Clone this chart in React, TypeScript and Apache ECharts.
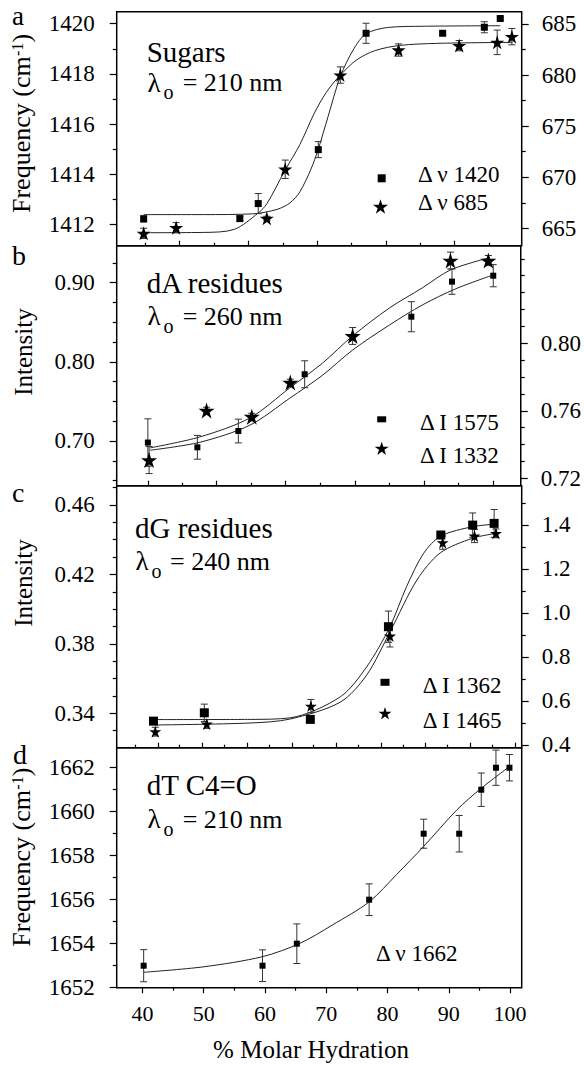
import React, { useEffect, useRef } from "react";
import * as echarts from "echarts";

const SERIF = "Liberation Serif, serif";
const INK = "#000";
const STAR_D =
  "M0,-10L2.245,-3.09L9.511,-3.09L3.633,1.18L5.878,8.09L0,3.82L-5.878,8.09L-3.633,1.18L-9.511,-3.09L-2.245,-3.09Z";

// shared x scale: % molar hydration
const X_RANGE = [35.8, 101.9];
const dXMajor = [40, 50, 60, 70, 80, 90, 100];
const dXMinor = [45, 55, 65, 75, 85, 95];
// unlabeled tick marks of the upper panels (positions on the hydration scale)
const aXMajor = [46.04, 57.3, 68.46, 79.72, 90.93];
const aXMinor = [40.44, 51.7, 62.91, 74.06, 85.32, 96.57];
const bXMajor = [40.88, 52.14, 63.45, 74.76, 86.13, 97.44];
const bXMinor = [46.53, 57.85, 69.11, 80.42, 91.73];
const cXMajor = [42.51, 49.79, 57.04, 64.38, 71.61, 78.95, 86.24, 93.47, 100.82];
const cXMinor = [38.81, 46.04, 53.38, 60.68, 67.91, 75.25, 82.49, 89.83, 97.11];

// ---- panel a: Sugars ----
const aLeftRange = [1411.15, 1420.48];
const aLeftMajor = [1412, 1414, 1416, 1418, 1420];
const aLeftMinor = [1413, 1415, 1417, 1419];
const aRightRange = [663.3, 686.2];
const aRightMajor = [665, 670, 675, 680, 685];
const aRightMinor = [667.5, 672.5, 677.5, 682.5];
// [hydration, value, error]
const aSquares = [
  [40.2, 1412.22, 0.12], [55.9, 1412.23, 0.1], [58.9, 1412.83, 0.4], [68.7, 1414.98, 0.32],
  [76.5, 1419.62, 0.4], [89.0, 1419.62, 0.06], [95.8, 1419.86, 0.22], [98.4, 1420.21, 0.06],
];
const aStars = [
  [40.2, 664.51, 0.5], [45.5, 665.06, 0.5], [60.3, 665.98, 0.2], [63.3, 670.78, 0.9],
  [72.3, 680.0, 0.8], [81.8, 682.45, 0.6], [91.7, 682.88, 0.5], [97.9, 683.2, 1.2], [100.3, 683.76, 0.8],
];
const aSquareFit = [
  [40.2, 1412.39], [50, 1412.39], [58, 1412.42], [62, 1412.6], [64.1, 1412.86], [65.7, 1413.3],
  [67.5, 1414.2], [68.7, 1415.0], [70.3, 1416.3], [72.3, 1417.9], [74.5, 1419.0], [76.5, 1419.6],
  [80, 1419.85], [86, 1419.9], [98.4, 1419.92],
];
const aStarFit = [
  [40.2, 664.57], [50, 664.6], [55, 664.9], [58.9, 666.5], [60.3, 667.4], [63.3, 670.7],
  [65.7, 673.2], [68, 676.2], [70, 678.3], [72.3, 680.0], [75, 681.5], [78, 682.4], [82, 682.9],
  [88, 683.1], [100.4, 683.2],
];

// ---- panel b: dA residues ----
const bLeftRange = [0.6435, 0.9467];
const bLeftMajor = [0.7, 0.8, 0.9];
const bLeftMinor = [0.65, 0.675, 0.725, 0.75, 0.775, 0.825, 0.85, 0.875, 0.925];
const bRightRange = [0.7156, 0.8578];
const bRightMajor = [0.72, 0.76, 0.8];
const bRightMinor = [0.73, 0.74, 0.75, 0.77, 0.78, 0.79, 0.81, 0.82, 0.83, 0.84, 0.85];
const bSquares = [
  [40.9, 0.698, 0.03], [49.0, 0.692, 0.015], [55.7, 0.7126, 0.015], [66.55, 0.7843, 0.017],
  [84.0, 0.857, 0.019], [90.65, 0.9013, 0.016], [97.4, 0.9088, 0.014],
];
const bStars = [
  [41.1, 0.7308, 0.008], [50.5, 0.7601, 0.002], [57.9, 0.7565, 0.002], [64.2, 0.7767, 0.002],
  [74.4, 0.8043, 0.005], [90.4, 0.849, 0.005], [96.6, 0.849, 0.003],
];
const bSquareFit = [
  [41.25, 0.6883], [49.41, 0.6984], [57.57, 0.7199], [64.1, 0.754], [69.49, 0.7832],
  [74.38, 0.8148], [80.42, 0.8465], [85.8, 0.8718], [91.19, 0.892], [97.4, 0.9098],
];
const bStarFit = [
  [41.25, 0.738], [49.41, 0.7445], [57.57, 0.7557], [64.1, 0.7735], [69.49, 0.7883],
  [74.38, 0.8043], [80.42, 0.8209], [85.8, 0.8328], [90.38, 0.8434], [96.58, 0.8505],
];

// ---- panel c: dG residues ----
const cLeftRange = [0.3202, 0.4711];
const cLeftMajor = [0.34, 0.38, 0.42, 0.46];
const cLeftMinor = [0.33, 0.35, 0.36, 0.37, 0.39, 0.4, 0.41, 0.43, 0.44, 0.45, 0.47];
const cRightRange = [0.3877, 1.5786];
const cRightMajor = [0.4, 0.6, 0.8, 1.0, 1.2, 1.4];
const cRightMinor = [0.5, 0.7, 0.9, 1.1, 1.3, 1.5];
const cSquares = [
  [41.8, 0.3355, 0.001], [50.1, 0.3403, 0.005], [67.4, 0.3365, 0.001], [80.15, 0.3899, 0.009],
  [88.7, 0.4427, 0.002], [93.9, 0.4484, 0.007], [97.4, 0.4494, 0.008],
];
const cStars = [
  [42.1, 0.4605, 0.02], [50.5, 0.4955, 0.02], [67.5, 0.577, 0.03], [80.4, 0.8955, 0.05],
  [89.0, 1.3196, 0.03], [94.2, 1.35, 0.03], [97.7, 1.362, 0.02],
];
const cSquareFit = [
  [41.8, 0.3364], [57.6, 0.3365], [64.1, 0.3374], [72.3, 0.3495], [76.6, 0.3668], [80.4, 0.3899],
  [83.1, 0.4129], [85.9, 0.4322], [88.7, 0.4421], [93.9, 0.4475], [97.4, 0.4489],
];
const cStarFit = [
  [42.1, 0.491], [57.6, 0.5], [64.1, 0.518], [72.3, 0.595], [76.6, 0.718], [80.4, 0.914],
  [84.8, 1.15], [88.6, 1.273], [93.9, 1.34], [97.8, 1.362],
];

// ---- panel d: dT C4=O ----
const dLeftRange = [1652, 1662.91];
const dLeftMajor = [1652, 1654, 1656, 1658, 1660, 1662];
const dLeftMinor = [1653, 1655, 1657, 1659, 1661];
const dSquares = [
  [40.2, 1653, 0.73], [59.6, 1653, 0.72], [65.2, 1654, 0.9], [77.0, 1656, 0.72], [85.9, 1659, 0.66],
  [91.7, 1659, 0.83], [95.3, 1661, 0.76], [97.7, 1662, 0.8], [99.9, 1662, 0.6],
];
const dSquareFit = [
  [40.16, 1652.7], [50, 1652.95], [59.58, 1653.41], [65.73, 1654.02], [71, 1654.85], [77.0, 1655.9],
  [81.5, 1657.15], [85.86, 1658.41], [91.31, 1660.08], [95.27, 1661.06], [99.89, 1662.05],
];

type Side = { range: number[]; major: number[]; minor: number[]; digits: number };
type Panel = {
  top: number;
  height: number;
  xMajor: number[];
  xMinor: number[];
  xInside: boolean;
  xLabels: boolean;
  left: Side;
  right?: Side;
  squares: number[][];
  squareSize: number | number[];
  squareFit: number[][];
  stars?: number[][];
  starSize?: number;
  starFit?: number[][];
};

const panels: Panel[] = [
  {
    top: 11.7, height: 234, xMajor: aXMajor, xMinor: aXMinor, xInside: true, xLabels: false,
    left: { range: aLeftRange, major: aLeftMajor, minor: aLeftMinor, digits: 0 },
    right: { range: aRightRange, major: aRightMajor, minor: aRightMinor, digits: 0 },
    squares: aSquares, squareSize: 7, squareFit: aSquareFit, stars: aStars, starSize: 14, starFit: aStarFit,
  },
  {
    top: 245.7, height: 240, xMajor: bXMajor, xMinor: bXMinor, xInside: true, xLabels: false,
    left: { range: bLeftRange, major: bLeftMajor, minor: bLeftMinor, digits: 2 },
    right: { range: bRightRange, major: bRightMajor, minor: bRightMinor, digits: 2 },
    squares: bSquares, squareSize: [6, 6], squareFit: bSquareFit, stars: bStars, starSize: 16, starFit: bStarFit,
  },
  {
    top: 485.7, height: 262, xMajor: cXMajor, xMinor: cXMinor, xInside: true, xLabels: false,
    left: { range: cLeftRange, major: cLeftMajor, minor: cLeftMinor, digits: 2 },
    right: { range: cRightRange, major: cRightMajor, minor: cRightMinor, digits: 1 },
    squares: cSquares, squareSize: 9, squareFit: cSquareFit, stars: cStars, starSize: 12, starFit: cStarFit,
  },
  {
    top: 747.7, height: 240, xMajor: dXMajor, xMinor: dXMinor, xInside: false, xLabels: true,
    left: { range: dLeftRange, major: dLeftMajor, minor: dLeftMinor, digits: 0 },
    squares: dSquares, squareSize: 6, squareFit: dSquareFit,
  },
];

const tickLine = { color: INK, width: 1.2 };

function xAxisCfg(gi: number, values: number[], len: number, inside: boolean, labels: boolean) {
  return {
    type: "value", gridIndex: gi, position: "bottom", min: X_RANGE[0], max: X_RANGE[1],
    axisLine: { show: false, onZero: false }, splitLine: { show: false },
    axisTick: { show: true, inside, length: len, customValues: values, lineStyle: tickLine },
    axisLabel: labels
      ? {
          show: true, customValues: values, margin: 15, fontFamily: SERIF, fontSize: 22, color: INK,
          formatter: (v: number) => String(Math.round(v)),
        }
      : { show: false },
  };
}

function yAxisCfg(gi: number, pos: string, side: Side, values: number[], len: number, labels: boolean) {
  return {
    type: "value", gridIndex: gi, position: pos, min: side.range[0], max: side.range[1],
    axisLine: { show: false, onZero: false }, splitLine: { show: false },
    axisTick: { show: true, length: len, customValues: values, lineStyle: tickLine },
    axisLabel: labels
      ? {
          show: true, customValues: values, margin: pos === "left" ? 22 : 20,
          fontFamily: SERIF, fontSize: 23, color: INK,
          formatter: (v: number) => Number(v).toFixed(side.digits),
        }
      : { show: false },
  };
}

function errSeries(pts: number[][], xi: number, yi: number) {
  return {
    type: "custom", xAxisIndex: xi, yAxisIndex: yi, silent: true, clip: false, z: 3,
    data: pts.map((p) => [p[0], p[1] - p[2], p[1] + p[2]]),
    encode: { x: 0, y: [1, 2] },
    renderItem: (_params: any, api: any) => {
      const x = api.value(0);
      const lo = api.coord([x, api.value(1)]);
      const hi = api.coord([x, api.value(2)]);
      const w = 3.5;
      const st = { stroke: "#333", lineWidth: 1 };
      return {
        type: "group",
        children: [
          { type: "line", shape: { x1: lo[0], y1: lo[1], x2: hi[0], y2: hi[1] }, style: st },
          { type: "line", shape: { x1: hi[0] - w, y1: hi[1], x2: hi[0] + w, y2: hi[1] }, style: st },
          { type: "line", shape: { x1: lo[0] - w, y1: lo[1], x2: lo[0] + w, y2: lo[1] }, style: st },
        ],
      };
    },
  };
}

function fitSeries(pts: number[][], xi: number, yi: number) {
  return {
    type: "line", xAxisIndex: xi, yAxisIndex: yi, data: pts, smooth: 0.3,
    showSymbol: false, symbol: "none", silent: true, z: 2,
    lineStyle: { color: "#222", width: 1 },
  };
}

function pointSeries(pts: number[][], xi: number, yi: number, symbol: string, size: number | number[]) {
  return {
    type: "scatter", xAxisIndex: xi, yAxisIndex: yi, data: pts.map((p) => [p[0], p[1]]),
    symbol, symbolSize: size, silent: true, z: 4, itemStyle: { color: INK, opacity: 1 },
  };
}

function buildOption() {
  const grid: any[] = [];
  const xAxis: any[] = [];
  const yAxis: any[] = [];
  const series: any[] = [];
  panels.forEach((p, gi) => {
    grid.push({ left: 116.7, width: 405, top: p.top, height: p.height, show: true, borderColor: INK, borderWidth: 1.5, backgroundColor: "transparent" });
    const xi = xAxis.length;
    xAxis.push(xAxisCfg(gi, p.xMajor, p.xInside ? 5 : 5.5, p.xInside, p.xLabels));
    xAxis.push(xAxisCfg(gi, p.xMinor, 3, p.xInside, false));
    const yl = yAxis.length;
    yAxis.push(yAxisCfg(gi, "left", p.left, p.left.major, 7, true));
    yAxis.push(yAxisCfg(gi, "left", p.left, p.left.minor, 4, false));
    let yr = yl;
    if (p.right) {
      yr = yAxis.length;
      yAxis.push(yAxisCfg(gi, "right", p.right, p.right.major, 7, true));
      yAxis.push(yAxisCfg(gi, "right", p.right, p.right.minor, 4, false));
    }
    series.push(fitSeries(p.squareFit, xi, yl));
    series.push(errSeries(p.squares, xi, yl));
    series.push(pointSeries(p.squares, xi, yl, "rect", p.squareSize));
    if (p.stars && p.starFit) {
      series.push(fitSeries(p.starFit, xi, yr));
      series.push(errSeries(p.stars, xi, yr));
      series.push(pointSeries(p.stars, xi, yr, "path://" + STAR_D, p.starSize || 13));
    }
  });

  const txt = (text: string, x: number, baseline: number, fs: number, align = "left", lh?: number) => ({
    type: "text", x, y: baseline - 0.34 * fs, silent: true, z: 10,
    style: {
      text, fontFamily: SERIF, fontSize: fs, fill: INK, lineHeight: lh || fs,
      align, verticalAlign: "middle",
    },
  });
  // rotated text, reading bottom-to-top, starting at screen y = start
  const rot = (text: string, cx: number, start: number, fs: number, align = "left") => ({
    type: "text", x: cx, y: start, rotation: Math.PI / 2, silent: true, z: 10,
    style: { text, fontFamily: SERIF, fontSize: fs, fill: INK, lineHeight: fs, align, verticalAlign: "middle" },
  });
  const freqTitle = (bottom: number) => [
    rot("Frequency (cm", 21, bottom, 26),
    rot("-1", 17, bottom - 157, 16),
    rot(")", 21, bottom - 170.5, 26),
  ];
  const lambda = (x: number, base: number, subX: number, subBase: number, eqX: number, rest: string) => [
    txt("λ", x, base, 27),
    txt("o", subX, subBase, 20),
    txt(rest, eqX, base, 26),
  ];
  const sq = (cx: number, cy: number, w: number, h: number) => ({
    type: "rect", silent: true, z: 10, shape: { x: cx - w / 2, y: cy - h / 2, width: w, height: h }, style: { fill: INK },
  });
  const star = (cx: number, cy: number, size: number) => ({
    type: "star5", x: cx, y: cy + 0.05 * size, scaleX: size / 19, scaleY: size / 19, silent: true, z: 10, style: { fill: INK },
  });

  const graphic: any[] = [
    txt("a", 12, 25, 27, "left", 20), txt("b", 12, 265, 28, "left", 20),
    txt("c", 12, 501.7, 28, "left", 20), txt("d", 13, 764.3, 28, "left", 20),
    ...freqTitle(213),
    rot("Intensity", 23.3, 352, 25, "center"),
    rot("Intensity", 23.3, 583, 25, "center"),
    ...freqTitle(946.7),
    txt("% Molar Hydration", 311, 1058, 25, "center"),
    txt("Sugars", 146.7, 61.7, 29),
    ...lambda(147.5, 91.7, 163.5, 99, 182.7, "= 210 nm"),
    txt("dA residues", 146.7, 293.3, 29),
    ...lambda(147.5, 325, 163.5, 332.5, 182.7, "= 260 nm"),
    txt("dG residues", 135, 538.3, 29),
    ...lambda(135.5, 570, 151.5, 577.5, 170, "= 240 nm"),
    txt("dT C4=O", 146.7, 795, 29),
    ...lambda(147.5, 828.3, 163.5, 836, 182.7, "= 210 nm"),
    sq(381.7, 178.3, 8, 8), txt("Δ ν 1420", 418, 182, 23),
    star(380.5, 206.5, 15), txt("Δ ν 685", 418, 210, 23),
    sq(381.7, 419.3, 9, 6), txt("Δ I 1575", 420, 430, 23),
    star(381.7, 448.3, 14), txt("Δ I 1332", 420, 463.5, 23),
    sq(385, 682.3, 9, 7), txt("Δ I 1362", 422.7, 693.3, 23),
    star(385, 713.3, 13), txt("Δ I 1465", 422.7, 728.3, 23),
    txt("Δ ν 1662", 376, 961.7, 23),
  ];

  return { animation: false, backgroundColor: "#fff", grid, xAxis, yAxis, series, graphic };
}

let shapeRegistered = false;

export default function App() {
  const ref = useRef<HTMLDivElement>(null);
  useEffect(() => {
    if (!ref.current) return;
    if (!shapeRegistered) {
      echarts.graphic.registerShape("star5", echarts.graphic.extendPath(STAR_D, {}) as any);
      shapeRegistered = true;
    }
    const chart = echarts.init(ref.current, null, { renderer: "svg" });
    chart.setOption(buildOption() as any);
    return () => chart.dispose();
  }, []);
  return <div ref={ref} style={{ position: "absolute", left: 0, top: 0, width: 584, height: 1066 }} />;
}
